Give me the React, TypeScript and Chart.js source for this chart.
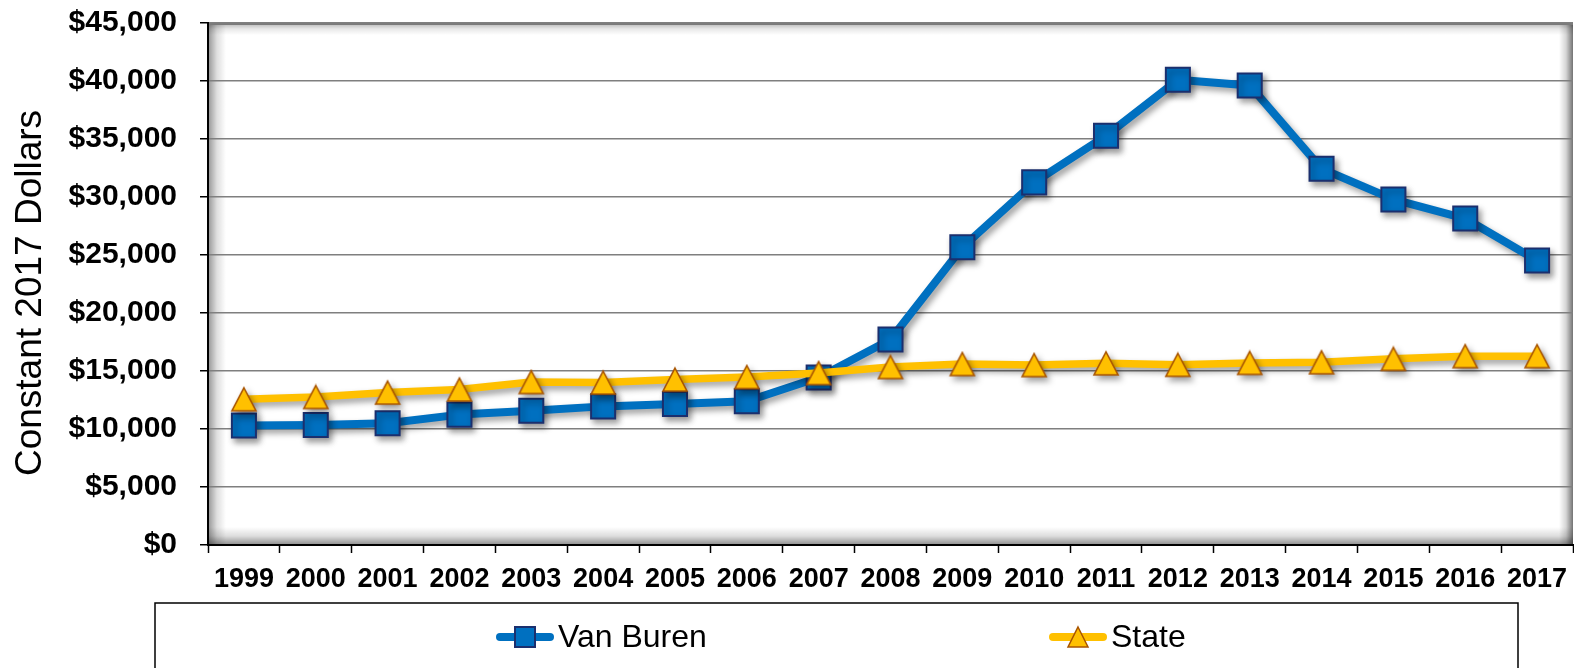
import { useEffect, useRef } from 'react';
import { Chart, registerables } from 'chart.js';

Chart.register(...registerables);

// Per-capita values in constant 2017 dollars
const years = ['1999', '2000', '2001', '2002', '2003', '2004', '2005', '2006', '2007', '2008', '2009', '2010', '2011', '2012', '2013', '2014', '2015', '2016', '2017'];
const vanBuren = [10300, 10350, 10500, 11240, 11570, 11950, 12160, 12390, 14440, 17710, 25660, 31260, 35280, 40100, 39620, 32440, 29790, 28140, 24520];
const stateValues = [12560, 12760, 13140, 13400, 14050, 14000, 14260, 14480, 14820, 15340, 15600, 15510, 15660, 15530, 15700, 15750, 16050, 16280, 16280];
const yTickValues = [0, 5000, 10000, 15000, 20000, 25000, 30000, 35000, 40000, 45000];
const seriesNames = ['Van Buren', 'State'];
const yAxisTitle = 'Constant 2017 Dollars';

const FONT = '"Liberation Sans", Arial, Helvetica, sans-serif';
const W = 1574;
const H = 668;

const BLUE = '#0070C0';
const BLUE_EDGE = '#1B2F6E';
const GOLD = '#FFC000';
const GOLD_EDGE = '#A85400';

// Triangle marker drawn on its own canvas so its box is centred on the value
function triangleMarker(w: number, h: number, lw: number) {
  const pad = 2;
  const c = document.createElement('canvas');
  c.width = w + pad * 2;
  c.height = h + pad * 2;
  const g = c.getContext('2d')!;
  g.beginPath();
  g.moveTo(pad + w / 2, pad);
  g.lineTo(pad + w, pad + h);
  g.lineTo(pad, pad + h);
  g.closePath();
  g.fillStyle = GOLD;
  g.fill();
  g.lineJoin = 'miter';
  g.lineWidth = lw;
  g.strokeStyle = GOLD_EDGE;
  g.stroke();
  return c;
}

// White plot area with soft grey shading along its edges
const plotBackground = {
  id: 'plotBackground',
  beforeDraw(chart: any) {
    const { ctx, chartArea } = chart;
    const { left, top, right, bottom } = chartArea;
    ctx.save();
    ctx.fillStyle = '#ffffff';
    ctx.fillRect(left, top, right - left, bottom - top);
    const shade = (x0: number, y0: number, x1: number, y1: number, a: number) => {
      const g = ctx.createLinearGradient(x0, y0, x1, y1);
      g.addColorStop(0, `rgba(0,0,0,${a})`);
      g.addColorStop(0.5, `rgba(0,0,0,${a * 0.3})`);
      g.addColorStop(1, 'rgba(0,0,0,0)');
      ctx.fillStyle = g;
      const rx = Math.min(x0, x1);
      const ry = Math.min(y0, y1);
      const rw = x0 === x1 ? right - left : Math.abs(x1 - x0);
      const rh = y0 === y1 ? bottom - top : Math.abs(y1 - y0);
      ctx.fillRect(x0 === x1 ? left : rx, y0 === y1 ? top : ry, rw, rh);
    };
    shade(left, top, left + 18, top, 0.42);
    shade(left, bottom, left, bottom - 18, 0.45);
    shade(right, top, right - 14, top, 0.55);
    shade(left, top, left, top + 12, 0.3);
    ctx.strokeStyle = '#7a7a7a';
    ctx.lineWidth = 3;
    ctx.beginPath();
    ctx.moveTo(left, top + 0.5);
    ctx.lineTo(right, top + 0.5);
    ctx.stroke();
    ctx.restore();
  },
};

// Soft drop shadow under each series
const seriesShadow = {
  id: 'seriesShadow',
  beforeDatasetDraw(chart: any) {
    const ctx = chart.ctx;
    ctx.save();
    ctx.shadowColor = 'rgba(0,0,0,0.38)';
    ctx.shadowBlur = 6;
    ctx.shadowOffsetX = 3;
    ctx.shadowOffsetY = 4;
  },
  afterDatasetDraw(chart: any) {
    chart.ctx.restore();
  },
};

// Rotated y-axis caption
const axisCaption = {
  id: 'axisCaption',
  afterDraw(chart: any) {
    const ctx = chart.ctx;
    const { top, bottom } = chart.chartArea;
    ctx.save();
    ctx.translate(31, (top + bottom) / 2 + 9);
    ctx.rotate(-Math.PI / 2);
    ctx.font = `37px ${FONT}`;
    ctx.fillStyle = '#000';
    ctx.textAlign = 'center';
    ctx.textBaseline = 'middle';
    ctx.fillText(yAxisTitle, 0, 0);
    ctx.restore();
  },
};

// Boxed legend under the x axis
const LEGEND_BOX = { left: 155, top: 603, right: 1518 };
const LEGEND_ITEM_X = [496, 1049];
const LEGEND_ROW_Y = 637;

const boxedLegend = {
  id: 'boxedLegend',
  afterDraw(chart: any) {
    const ctx = chart.ctx;
    ctx.save();
    ctx.strokeStyle = '#000';
    ctx.lineWidth = 1.5;
    ctx.beginPath();
    ctx.moveTo(LEGEND_BOX.left, H + 5);
    ctx.lineTo(LEGEND_BOX.left, LEGEND_BOX.top);
    ctx.lineTo(LEGEND_BOX.right, LEGEND_BOX.top);
    ctx.lineTo(LEGEND_BOX.right, H + 5);
    ctx.stroke();

    chart.data.datasets.forEach((ds: any, i: number) => {
      const x0 = LEGEND_ITEM_X[i];
      const y = LEGEND_ROW_Y;
      const cx = x0 + 29;
      ctx.lineCap = 'round';
      ctx.strokeStyle = ds.borderColor;
      ctx.lineWidth = 8;
      ctx.beginPath();
      ctx.moveTo(x0 + 4, y);
      ctx.lineTo(x0 + 54, y);
      ctx.stroke();
      ctx.lineCap = 'butt';
      if (ds.pointStyle === 'rect') {
        ctx.fillStyle = ds.pointBackgroundColor;
        ctx.fillRect(cx - 10, y - 10, 20, 20);
        ctx.strokeStyle = ds.pointBorderColor;
        ctx.lineWidth = 2;
        ctx.strokeRect(cx - 10, y - 10, 20, 20);
      } else {
        ctx.beginPath();
        ctx.moveTo(cx, y - 10);
        ctx.lineTo(cx + 10, y + 10);
        ctx.lineTo(cx - 10, y + 10);
        ctx.closePath();
        ctx.fillStyle = GOLD;
        ctx.fill();
        ctx.strokeStyle = GOLD_EDGE;
        ctx.lineWidth = 1.5;
        ctx.stroke();
      }
      ctx.font = `32px ${FONT}`;
      ctx.fillStyle = '#000';
      ctx.textAlign = 'left';
      ctx.textBaseline = 'middle';
      ctx.fillText(ds.label, x0 + 62, y + 1);
    });
    ctx.restore();
  },
};

export default function App() {
  const canvasRef = useRef<HTMLCanvasElement | null>(null);

  useEffect(() => {
    const canvas = canvasRef.current;
    if (!canvas) return;
    const tri = triangleMarker(24, 23, 1.6);

    const chart = new Chart(canvas, {
      type: 'line',
      data: {
        labels: years,
        datasets: [
          {
            label: seriesNames[0],
            data: vanBuren,
            borderColor: BLUE,
            backgroundColor: BLUE,
            borderWidth: 8,
            borderJoinStyle: 'round',
            borderCapStyle: 'round',
            tension: 0,
            pointStyle: 'rect',
            pointRadius: 17,
            pointHoverRadius: 17,
            pointBackgroundColor: BLUE,
            pointBorderColor: BLUE_EDGE,
            pointBorderWidth: 2,
            order: 2,
          } as any,
          {
            label: seriesNames[1],
            data: stateValues,
            borderColor: GOLD,
            backgroundColor: GOLD,
            borderWidth: 7.5,
            borderJoinStyle: 'round',
            borderCapStyle: 'round',
            tension: 0,
            pointStyle: tri,
            pointRadius: 13,
            pointHoverRadius: 13,
            order: 1,
          } as any,
        ],
      },
      options: {
        responsive: false,
        animation: false,
        devicePixelRatio: 1,
        layout: { autoPadding: false, padding: { left: 0, right: 1, top: 23, bottom: 68 } },
        plugins: {
          legend: { display: false },
          tooltip: { enabled: false },
          title: { display: false },
        },
        scales: {
          x: {
            type: 'category',
            offset: true,
            grid: {
              offset: true,
              drawOnChartArea: false,
              drawTicks: true,
              tickLength: 8,
              color: '#000',
              tickColor: '#000',
              tickWidth: 1.5,
            },
            border: { display: true, color: '#000', width: 2 },
            ticks: {
              color: '#000',
              font: { family: FONT, size: 27, weight: 'bold' },
              padding: 10,
              maxRotation: 0,
              autoSkip: false,
            },
            afterFit(axis: any) {
              axis.height = 55;
              axis.paddingLeft = 0;
              axis.paddingRight = 0;
              axis.paddingTop = 0;
              axis.paddingBottom = 0;
            },
          },
          y: {
            min: 0,
            max: 45000,
            afterBuildTicks(axis: any) {
              axis.ticks = yTickValues.map((v) => ({ value: v }));
            },
            grid: {
              color: '#7f7f7f',
              lineWidth: 1.5,
              drawTicks: true,
              tickLength: 8,
              tickColor: '#000',
              tickWidth: 1.5,
            },
            border: { display: true, color: '#000', width: 2 },
            ticks: {
              color: '#000',
              font: { family: FONT, size: 30, weight: 'bold' },
              padding: 23,
              callback: (v: any) => '$' + Number(v).toLocaleString('en-US'),
            },
            afterFit(axis: any) {
              axis.width = 208;
              axis.paddingLeft = 0;
              axis.paddingRight = 0;
              axis.paddingTop = 0;
              axis.paddingBottom = 0;
            },
          },
        },
      },
      plugins: [plotBackground, seriesShadow, axisCaption, boxedLegend],
    });

    return () => chart.destroy();
  }, []);

  return (
    <div style={{ position: 'fixed', left: 0, top: 0, width: W, height: H, background: '#fff' }}>
      <canvas ref={canvasRef} width={W} height={H} style={{ display: 'block', width: W, height: H }} />
    </div>
  );
}
